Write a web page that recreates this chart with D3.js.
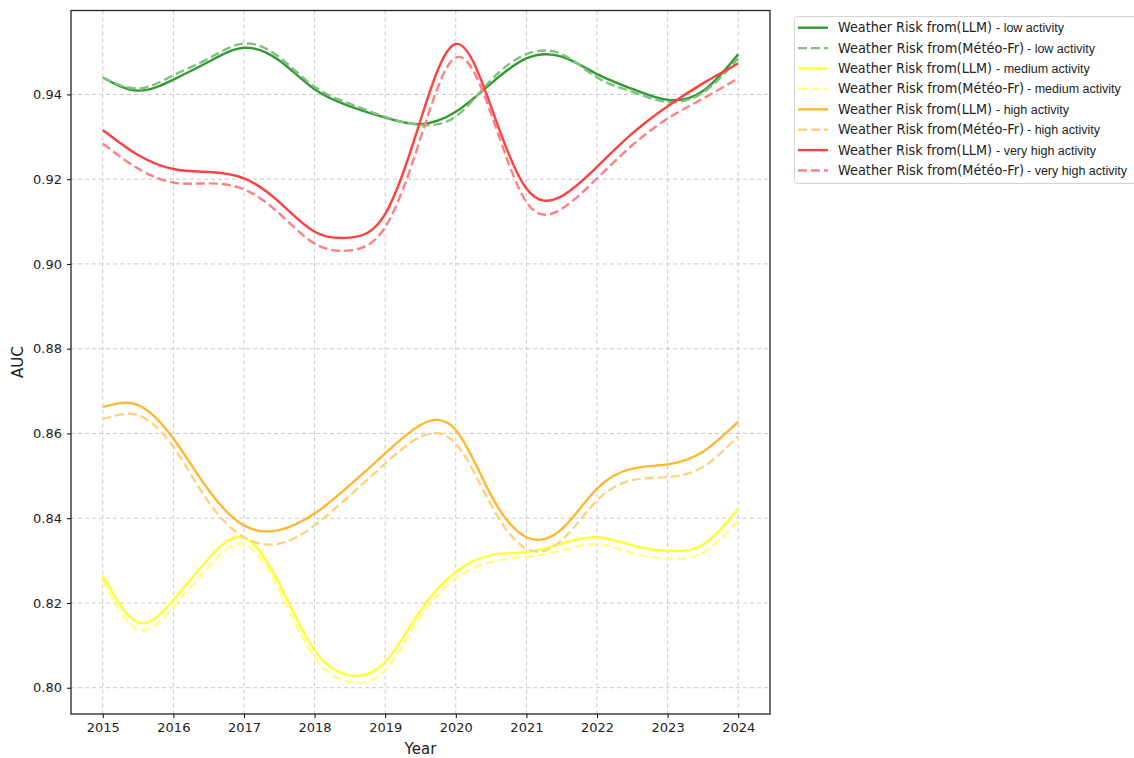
<!DOCTYPE html>
<html>
<head>
<meta charset="utf-8">
<script src="https://cdn.jsdelivr.net/npm/d3@7"></script>
<style>
  body { margin: 0; background: #fff; }
  svg { font-family: "DejaVu Sans", sans-serif; }
</style>
</head>
<body>
<div id="chart"></div>
<script>
// Positions (tous les six mois) et graduations
const samples = [2015, 2015.5, 2016, 2016.5, 2017, 2017.5, 2018, 2018.5, 2019, 2019.5,
                 2020, 2020.5, 2021, 2021.5, 2022, 2022.5, 2023, 2023.5, 2024];
const years = [2015, 2016, 2017, 2018, 2019, 2020, 2021, 2022, 2023, 2024];
const yTicks = [0.80, 0.82, 0.84, 0.86, 0.88, 0.90, 0.92, 0.94];

// Valeurs AUC estimées sur l'image
const llmLow        = [0.9440, 0.9409, 0.9435, 0.9477, 0.9510, 0.9480, 0.9412, 0.9372, 0.9345, 0.9330,
                       0.9359, 0.9426, 0.9485, 0.9489, 0.9448, 0.9413, 0.9387, 0.9408, 0.9495];
const meteoLow      = [0.9440, 0.9414, 0.9445, 0.9485, 0.9520, 0.9488, 0.9418, 0.9378, 0.9347, 0.9328,
                       0.9348, 0.9434, 0.9495, 0.9495, 0.9440, 0.9406, 0.9382, 0.9404, 0.9485];
const llmMedium     = [0.8265, 0.8154, 0.8207, 0.8305, 0.8354, 0.8245, 0.8088, 0.8029, 0.8061, 0.8182,
                       0.8273, 0.8313, 0.8320, 0.8340, 0.8355, 0.8336, 0.8323, 0.8338, 0.8422];
const meteoMedium   = [0.8253, 0.8137, 0.8191, 0.8285, 0.8339, 0.8230, 0.8072, 0.8013, 0.8041, 0.8167,
                       0.8258, 0.8297, 0.8309, 0.8324, 0.8339, 0.8317, 0.8305, 0.8318, 0.8395];
const llmHigh       = [0.8662, 0.8667, 0.8588, 0.8466, 0.8383, 0.8372, 0.8411, 0.8478, 0.8553, 0.8620,
                       0.8608, 0.8454, 0.8355, 0.8374, 0.8470, 0.8517, 0.8527, 0.8557, 0.8628];
const meteoHigh     = [0.8633, 0.8643, 0.8568, 0.8438, 0.8355, 0.8340, 0.8383, 0.8454, 0.8529, 0.8592,
                       0.8576, 0.8431, 0.8328, 0.8348, 0.8442, 0.8490, 0.8497, 0.8521, 0.8594];
const llmVeryHigh   = [0.9316, 0.9257, 0.9224, 0.9217, 0.9202, 0.9146, 0.9076, 0.9062, 0.9118, 0.9339,
                       0.9519, 0.9371, 0.9178, 0.9160, 0.9229, 0.9308, 0.9372, 0.9426, 0.9473];
const meteoVeryHigh = [0.9284, 0.9225, 0.9192, 0.9190, 0.9176, 0.9119, 0.9048, 0.9032, 0.9087, 0.9296,
                       0.9487, 0.9355, 0.9146, 0.9130, 0.9202, 0.9280, 0.9343, 0.9390, 0.9438];

const series = [
  { values: llmLow,        color: "#339933", dashed: false, name: "Weather Risk from(LLM)",      suffix: "-  low activity" },
  { values: meteoLow,      color: "#80c080", dashed: true,  name: "Weather Risk from(Météo-Fr)", suffix: "-  low activity" },
  { values: llmMedium,     color: "#ffff33", dashed: false, name: "Weather Risk from(LLM)",      suffix: "-  medium activity" },
  { values: meteoMedium,   color: "#ffff80", dashed: true,  name: "Weather Risk from(Météo-Fr)", suffix: "- medium activity" },
  { values: llmHigh,       color: "#ffb733", dashed: false, name: "Weather Risk from(LLM)",      suffix: "-  high activity" },
  { values: meteoHigh,     color: "#ffd280", dashed: true,  name: "Weather Risk from(Météo-Fr)", suffix: "- high activity" },
  { values: llmVeryHigh,   color: "#ff4040", dashed: false, name: "Weather Risk from(LLM)",      suffix: "- very high activity" },
  { values: meteoVeryHigh, color: "#ff8080", dashed: true,  name: "Weather Risk from(Météo-Fr)", suffix: "- very high activity" }
];

// Dimensions
const width = 1134, height = 758;
const plot = { left: 71, right: 770, top: 10.5, bottom: 714 };

const svg = d3.select("#chart").append("svg")
  .attr("width", width)
  .attr("height", height);

const x = d3.scaleLinear().domain([2014.55, 2024.45]).range([plot.left, plot.right]);
const y = d3.scaleLinear().domain([0.7938, 0.9598]).range([plot.bottom, plot.top]);

// Grille
const grid = svg.append("g").attr("stroke", "#c8c8c8").attr("stroke-width", 1).attr("stroke-dasharray", "4,3");
grid.selectAll(".vgrid").data(years).enter().append("line")
  .attr("x1", d => x(d)).attr("x2", d => x(d))
  .attr("y1", plot.top).attr("y2", plot.bottom);
grid.selectAll(".hgrid").data(yTicks).enter().append("line")
  .attr("x1", plot.left).attr("x2", plot.right)
  .attr("y1", d => y(d)).attr("y2", d => y(d));

// Courbes
const line = d3.line()
  .x((d, i) => x(samples[i]))
  .y(d => y(d))
  .curve(d3.curveNatural);

svg.append("g").selectAll("path").data(series).enter().append("path")
  .attr("fill", "none")
  .attr("stroke", d => d.color)
  .attr("stroke-width", 2.4)
  .attr("stroke-dasharray", d => d.dashed ? "9,4" : null)
  .attr("d", d => line(d.values));

// Axes
const xAxis = d3.axisBottom(x).tickValues(years).tickFormat(d3.format("d")).tickSizeOuter(0).tickSize(4).tickPadding(5);
const yAxis = d3.axisLeft(y).tickValues(yTicks).tickFormat(d3.format(".2f")).tickSizeOuter(0).tickSize(4).tickPadding(5);

svg.append("g")
  .attr("transform", `translate(0, ${plot.bottom})`)
  .call(xAxis)
  .call(g => g.select(".domain").remove())
  .call(g => g.selectAll("text").attr("font-size", 13).attr("fill", "#222").attr("font-family", "DejaVu Sans"));

svg.append("g")
  .attr("transform", `translate(${plot.left}, 0)`)
  .call(yAxis)
  .call(g => g.select(".domain").remove())
  .call(g => g.selectAll("text").attr("font-size", 13).attr("fill", "#222").attr("font-family", "DejaVu Sans"));

// Cadre
svg.append("rect")
  .attr("x", plot.left).attr("y", plot.top)
  .attr("width", plot.right - plot.left).attr("height", plot.bottom - plot.top)
  .attr("fill", "none").attr("stroke", "#222").attr("stroke-width", 1.3);

// Titres des axes
svg.append("text")
  .attr("x", (plot.left + plot.right) / 2).attr("y", 754)
  .attr("text-anchor", "middle").attr("font-size", 15).attr("fill", "#222")
  .text("Year");

svg.append("text")
  .attr("transform", `translate(23, ${(plot.top + plot.bottom) / 2}) rotate(-90)`)
  .attr("text-anchor", "middle").attr("font-size", 15).attr("fill", "#222")
  .text("AUC");

// Légende
const legend = svg.append("g");
legend.append("rect")
  .attr("x", 794.5).attr("y", 16.5).attr("width", 345).attr("height", 167)
  .attr("rx", 3).attr("fill", "#fff").attr("stroke", "#d4d4d4");

const rows = legend.selectAll(".row").data(series).enter().append("g")
  .attr("transform", (d, i) => `translate(0, ${27.7 + i * 20.4})`);

rows.append("line")
  .attr("x1", 798).attr("x2", 828)
  .attr("stroke", d => d.color).attr("stroke-width", 2.4)
  .attr("stroke-dasharray", d => d.dashed ? "9,4" : null);

const label = rows.append("text")
  .attr("y", 4.5).attr("fill", "#222");
label.append("tspan")
  .attr("x", 838).attr("font-size", 13.5)
  .attr("textLength", d => d.name.includes("LLM") ? 154 : 186)
  .attr("lengthAdjust", "spacingAndGlyphs")
  .text(d => d.name);
label.append("tspan")
  .attr("x", d => d.name.includes("LLM") ? 996 : 1027)
  .attr("font-size", 12.5).attr("font-family", "Liberation Sans")
  .text(d => d.suffix);
</script>
</body>
</html>
